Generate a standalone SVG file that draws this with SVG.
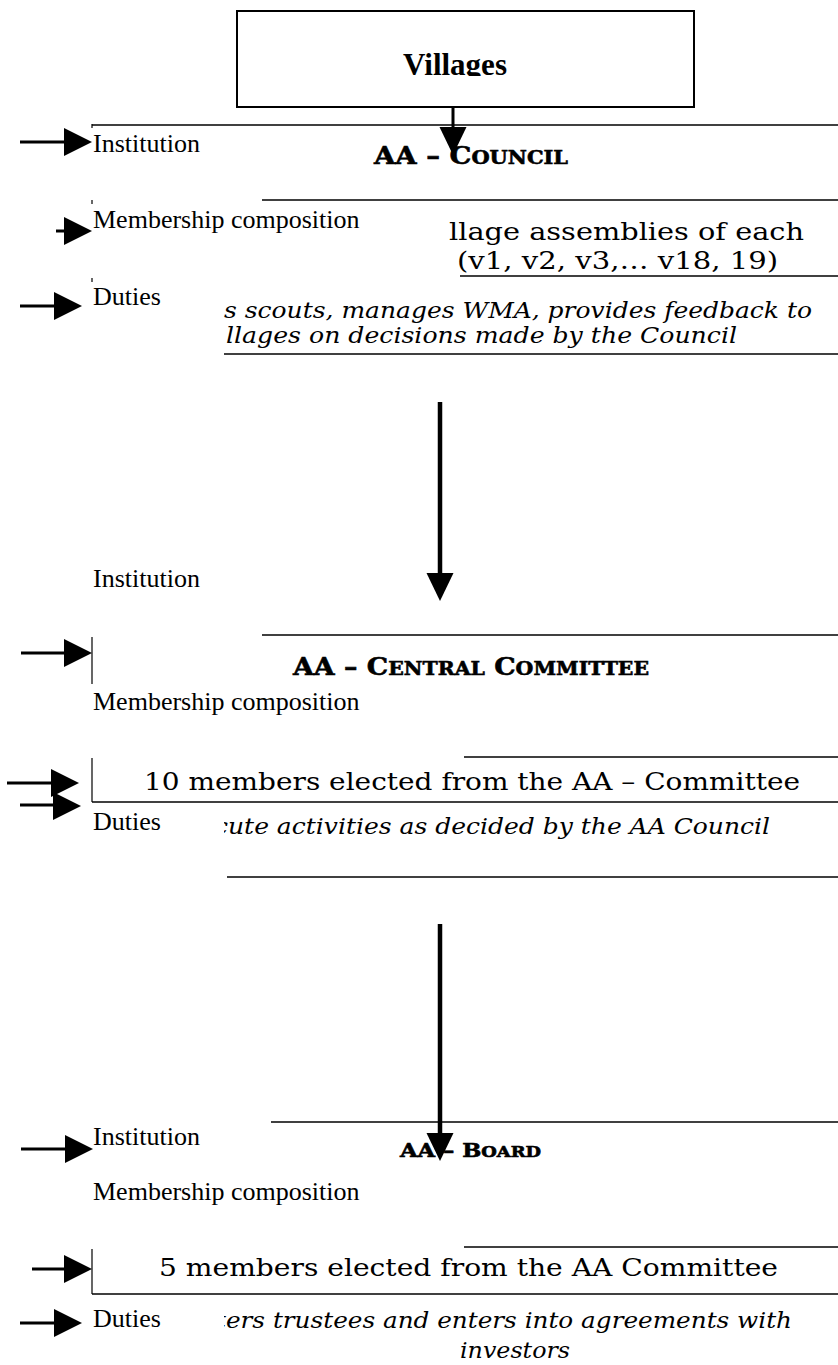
<svg xmlns="http://www.w3.org/2000/svg" width="838" height="1365" viewBox="0 0 838 1365">
<style>
.lbl{font-family:"Liberation Serif","Times New Roman",serif;font-size:26px;fill:#000}
.wide{font-family:"DejaVu Serif",serif;font-size:25px;fill:#000}
.ital{font-family:"DejaVu Serif",serif;font-style:italic;font-size:23px;fill:#000}
.head{font-family:"DejaVu Serif",serif;font-weight:bold;fill:#000;stroke:#000;stroke-width:0.6}
.vill{font-family:"Liberation Serif","Times New Roman",serif;font-weight:bold;font-size:31px;fill:#000}
.sep{stroke:#000;stroke-width:1.6;fill:none}
.tick{stroke:#000;stroke-width:1.2;fill:none}
.conn{stroke:#000;stroke-width:3;fill:none}
.long{stroke:#000;stroke-width:4.5;fill:none}
.box{stroke:#000;stroke-width:2;fill:#fff}
.ah{fill:#000;stroke:none}
</style>
<defs>
<polygon id="ahR" points="0,-14 28,0 0,14"/>
<polygon id="ahD" points="-13.5,0 13.5,0 0,28"/>
<clipPath id="clipV"><rect x="237" y="11" width="457" height="65"/></clipPath>
<clipPath id="clipR"><rect x="224" y="0" width="614" height="1365"/></clipPath>
</defs>
<rect width="838" height="1365" fill="#fff"/>

<g id="villages">
<rect class="box" x="237" y="11" width="457" height="96"/>
<text class="vill" x="455" y="75" text-anchor="middle" clip-path="url(#clipV)">Villages</text>
</g>

<g id="council">
<line class="sep" x1="92" y1="125" x2="838" y2="125"/>
<line class="tick" x1="92" y1="124" x2="92" y2="128"/>
<text class="lbl" x="93" y="152">Institution</text>
<text class="head" x="374" y="164" textLength="194" lengthAdjust="spacingAndGlyphs"><tspan font-size="25">AA – C</tspan><tspan font-size="19">OUNCIL</tspan></text>
<line class="sep" x1="262" y1="200" x2="838" y2="200"/>
<line class="tick" x1="92" y1="200" x2="92" y2="204"/>
<text class="lbl" x="93" y="228">Membership composition</text>
<text class="wide" x="449" y="240" textLength="355" lengthAdjust="spacingAndGlyphs">llage assemblies of each</text>
<text class="wide" x="457" y="269" textLength="321" lengthAdjust="spacingAndGlyphs">(v1, v2, v3,… v18, 19)</text>
<line class="sep" x1="460" y1="276" x2="838" y2="276"/>
<line class="tick" x1="92" y1="278" x2="92" y2="282"/>
<text class="lbl" x="93" y="305">Duties</text>
<text class="ital" x="224" y="318" textLength="588" lengthAdjust="spacingAndGlyphs">s scouts, manages WMA, provides feedback to</text>
<text class="ital" x="226" y="343" textLength="511" lengthAdjust="spacingAndGlyphs">llages on decisions made by the Council</text>
<line class="sep" x1="224" y1="354" x2="838" y2="354"/>
</g>

<g id="central-committee">
<text class="lbl" x="93" y="587">Institution</text>
<line class="sep" x1="262" y1="635" x2="838" y2="635"/>
<line class="tick" x1="92" y1="637" x2="92" y2="684"/>
<text class="head" x="293" y="675" textLength="356" lengthAdjust="spacingAndGlyphs"><tspan font-size="25">AA – C</tspan><tspan font-size="19">ENTRAL</tspan><tspan font-size="25"> C</tspan><tspan font-size="19">OMMITTEE</tspan></text>
<text class="lbl" x="93" y="710">Membership composition</text>
<line class="sep" x1="464" y1="757" x2="838" y2="757"/>
<line class="tick" x1="92" y1="758" x2="92" y2="802"/>
<text class="wide" font-size="26" x="144" y="790" textLength="656" lengthAdjust="spacingAndGlyphs">10 members elected from the AA – Committee</text>
<line class="sep" x1="92" y1="802" x2="838" y2="802"/>
<text class="lbl" x="93" y="830">Duties</text>
<text class="ital" x="214" y="834" textLength="556" lengthAdjust="spacingAndGlyphs" clip-path="url(#clipR)">cute activities as decided by the AA Council</text>
<line class="sep" x1="227" y1="877" x2="838" y2="877"/>
</g>

<g id="board">
<line class="sep" x1="271" y1="1122" x2="838" y2="1122"/>
<text class="lbl" x="93" y="1145">Institution</text>
<text class="head" x="400" y="1157" textLength="141" lengthAdjust="spacingAndGlyphs"><tspan font-size="19">AA – B</tspan><tspan font-size="15">OARD</tspan></text>
<text class="lbl" x="93" y="1200">Membership composition</text>
<line class="sep" x1="464" y1="1247" x2="838" y2="1247"/>
<line class="tick" x1="92" y1="1249" x2="92" y2="1294"/>
<text class="wide" font-size="26" x="159" y="1276" textLength="619" lengthAdjust="spacingAndGlyphs">5 members elected from the AA Committee</text>
<line class="sep" x1="92" y1="1294" x2="838" y2="1294"/>
<text class="lbl" x="93" y="1327">Duties</text>
<text class="ital" x="216" y="1328" textLength="576" lengthAdjust="spacingAndGlyphs" clip-path="url(#clipR)">ters trustees and enters into agreements with</text>
<text class="ital" x="460" y="1358" textLength="110" lengthAdjust="spacingAndGlyphs">investors</text>
</g>

<g id="connectors">
<line class="conn" x1="453" y1="107" x2="453" y2="130"/>
<use href="#ahD" class="ah" x="453" y="127"/>
<line class="long" x1="440" y1="402" x2="440" y2="576"/>
<use href="#ahD" class="ah" x="440" y="573"/>
<line class="long" x1="440" y1="924" x2="440" y2="1136"/>
<use href="#ahD" class="ah" x="440" y="1133"/>

<line class="conn" x1="20" y1="142" x2="66" y2="142"/>
<use href="#ahR" class="ah" x="64" y="142"/>
<line class="conn" x1="56" y1="231" x2="66" y2="231"/>
<use href="#ahR" class="ah" x="64" y="231"/>
<line class="conn" x1="20" y1="306" x2="54" y2="306"/>
<use href="#ahR" class="ah" x="54" y="306"/>

<line class="conn" x1="21" y1="653" x2="66" y2="653"/>
<use href="#ahR" class="ah" x="64" y="653"/>
<line class="conn" x1="7" y1="783" x2="54" y2="783"/>
<use href="#ahR" class="ah" x="51" y="783"/>
<line class="conn" x1="20" y1="805" x2="55" y2="805"/>
<use href="#ahR" class="ah" x="53" y="806"/>

<line class="conn" x1="21" y1="1149" x2="66" y2="1149"/>
<use href="#ahR" class="ah" x="65" y="1149"/>
<line class="conn" x1="32" y1="1269" x2="66" y2="1269"/>
<use href="#ahR" class="ah" x="64" y="1269"/>
<line class="conn" x1="20" y1="1323" x2="55" y2="1323"/>
<use href="#ahR" class="ah" x="54" y="1323"/>
</g>
</svg>
